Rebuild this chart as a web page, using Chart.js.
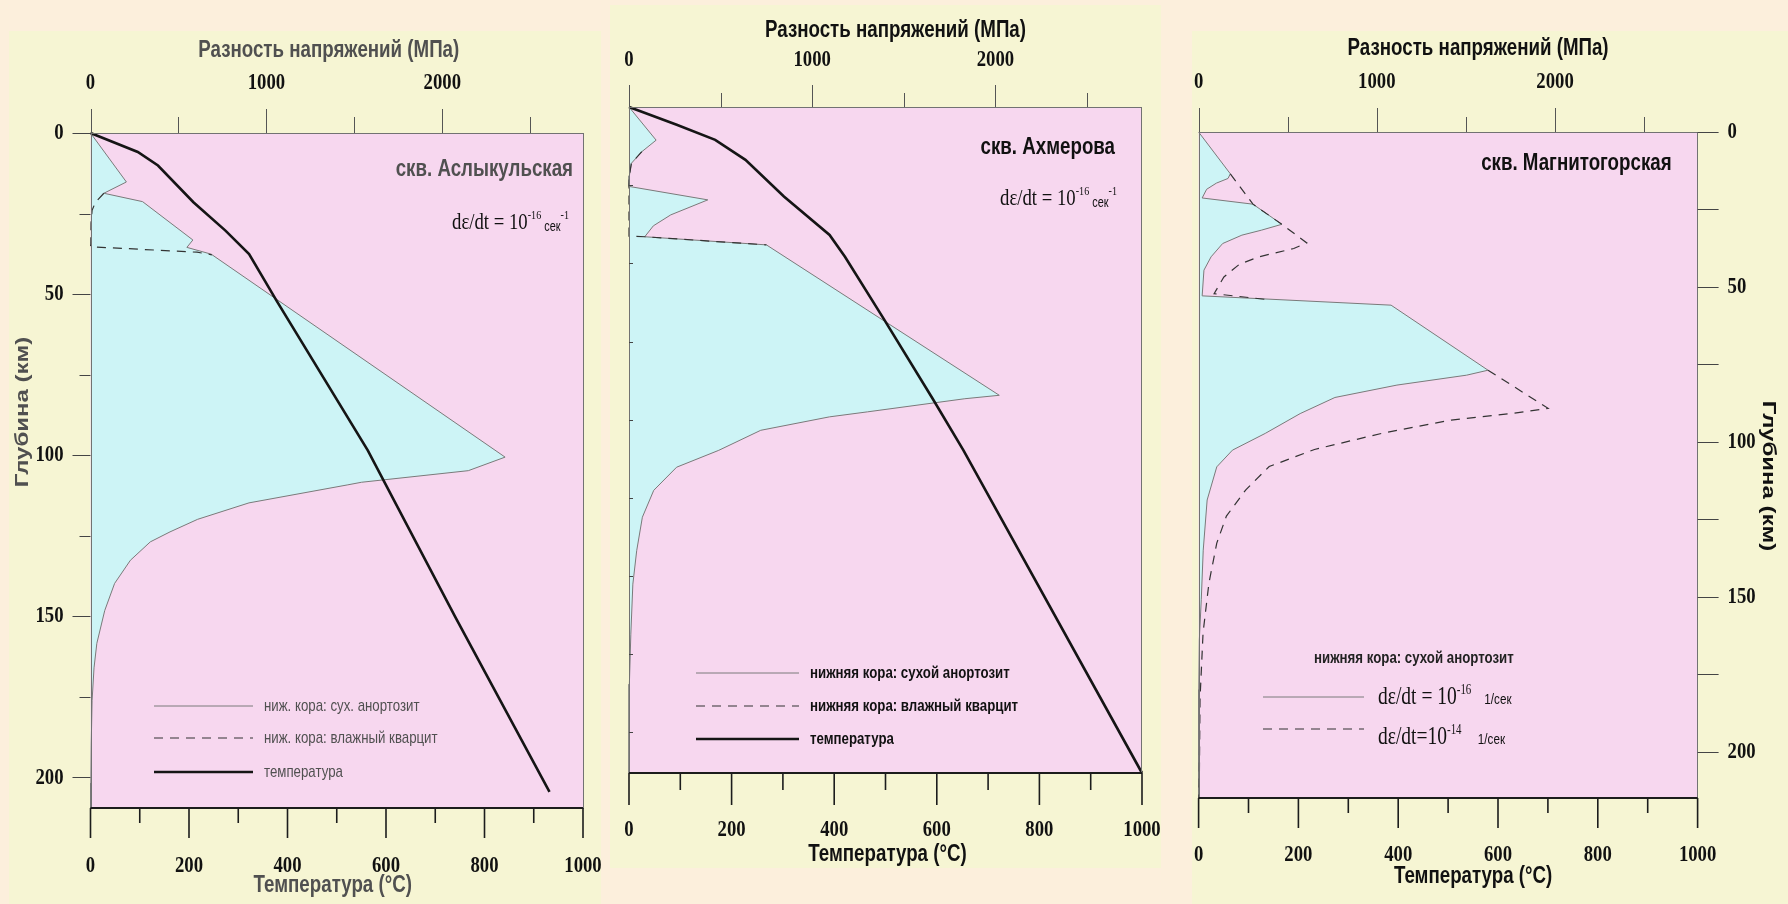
<!DOCTYPE html>
<html>
<head>
<meta charset="utf-8">
<script src="https://cdn.jsdelivr.net/npm/chart.js@4.4.1/dist/chart.umd.min.js"></script>
<style>
  body { margin: 0; width: 1788px; height: 904px; background: #fcefdc; overflow: hidden; position: relative; }
  canvas { position: absolute; left: 0; top: 0; }
</style>
</head>
<body>
<canvas id="asl" width="1788" height="904"></canvas>
<canvas id="akh" width="1788" height="904"></canvas>
<canvas id="mag" width="1788" height="904"></canvas>
<script>
// tick labels
const tempTicks = [0, 200, 400, 600, 800, 1000];
const stressTicks = [0, 1000, 2000];
const depthTicks = [0, 50, 100, 150, 200];

// скв. Аслыкульская (depth km / stress MPa / temperature C)
const aslDryDepth  = [0, 15.2, 18.7, 21.3, 33.2, 35.5, 37.6, 100.6, 104.8, 108.4, 109.2, 114.8, 119.9, 123.8, 126.9, 132.6, 139.8, 148.2, 158.4, 166.0, 176.2, 190, 201.8, 209.5];
const aslDryStress = [0, 204, 76, 296, 582, 548, 686, 2357, 2148, 1541, 1463, 901, 609, 452, 340, 227, 137, 81, 36, 20, 9, 4, 2, 0];
const aslWetDepth  = [18.7, 21.5, 24, 28, 34.5, 35.3, 37.0, 37.8];
const aslWetStress = [76, 28, 9, 3, 2, 0, 606, 690];
const aslTempDepth = [0, 5.9, 10.1, 21.5, 30.3, 37.6, 52.1, 98.5, 150, 204.5];
const aslTemp      = [0, 96, 137, 209, 274, 322, 378, 563, 740, 932];

// скв. Ахмерова
const akhDryDepth  = [0, 10.6, 14.3, 18, 22, 25.4, 29.7, 34.5, 38, 41.5, 44.1, 92.2, 93.3, 97.5, 99.1, 103.4, 109.8, 115.2, 122.6, 131.2, 141.9, 152.6, 168.6, 184.6, 213];
const akhDryStress = [0, 148, 70, 13, 2, 0, 430, 228, 133, 86, 750, 2021, 1833, 1302, 1094, 719, 490, 260, 135, 73, 42, 21, 10, 2, 0];
const akhWetDepth  = [14.3, 18, 22, 25.4, 41.3, 41.5, 44.1];
const akhWetStress = [70, 13, 2, 0, 0, 86, 750];
const akhTempDepth = [0, 5.7, 10.5, 16.9, 28.6, 40.9, 47.9, 67.6, 93.3, 109.8, 213];
const akhTemp      = [0, 93, 168, 227, 302, 391, 421, 496, 592, 652, 1000];

// скв. Магнитогорская (solid: 1e-16, dashed: 1e-14)
const magSlowDepth  = [0, 13.5, 15.0, 16.5, 18.5, 21.3, 23.3, 29.8, 31.7, 33.3, 36.0, 40.3, 44.6, 52.9, 55.9, 76.9, 78.5, 81.7, 85.7, 90.9, 97.3, 102.7, 108.1, 118.8, 135, 151, 164, 180, 215];
const magSlowStress = [0, 178, 165, 100, 45, 20, 305, 467, 352, 243, 135, 70, 30, 20, 1080, 1624, 1504, 1113, 765, 570, 374, 190, 102, 48, 26, 15, 4, 1, 0];
const magFastDepth  = [13.5, 23.3, 29.8, 35.8, 37.6, 40.3, 42.7, 46.8, 52.2, 54.0, 65, 76.9, 89.2, 90.8, 93.0, 97.3, 102.5, 108, 115.5, 124, 132.7, 145.6, 161.7, 183, 210, 215];
const magFastStress = [178, 305, 467, 607, 534, 338, 229, 142, 87, 370, null, 1624, 1961, 1765, 1417, 1026, 650, 396, 265, 156, 102, 58, 25, 8, 4, 2];

const stationNames = ['скв. Аслыкульская', 'скв. Ахмерова', 'скв. Магнитогорская'];
const aslLegend = ['ниж. кора: сух. анортозит', 'ниж. кора: влажный кварцит', 'температура'];
const akhLegend = ['нижняя кора: сухой анортозит', 'нижняя кора: влажный кварцит', 'температура'];
const magLegendHead = 'нижняя кора: сухой анортозит';
const magRates = ['-16', '-14'];

const pink = '#f7d7ef', cyan = '#cdf4f6', paper = '#f6f5d3';
const SX = 0.78; // the figure is squeezed sideways
const numFont = 'bold 24px "Liberation Serif", "Times New Roman", serif';
const sans = (bold, n) => (bold ? 'bold ' : '') + n + 'px "Liberation Sans", Arial, sans-serif';
const serif = (n) => n + 'px "Liberation Serif", "Times New Roman", serif';

const styles = {
  dry:  { color: '#7a7a7a', width: 1, dash: [] },
  wet:  { color: '#333333', width: 1.2, dash: [9, 7] },
  temp: { color: '#151515', width: 2.6, dash: [] }
};

function pts(ys, xs) {
  return ys.map((y, i) => ({ x: xs[i], y: y }));
}

function seg(ctx, x1, y1, x2, y2) {
  ctx.beginPath();
  ctx.moveTo(x1, y1);
  ctx.lineTo(x2, y2);
  ctx.stroke();
}

function say(ctx, s, x, y, font, color, align, rot) {
  ctx.save();
  ctx.translate(x, y);
  if (rot) { ctx.rotate(rot); ctx.scale(1, SX); } else { ctx.scale(SX, 1); }
  ctx.font = font;
  ctx.fillStyle = color;
  ctx.textAlign = align || 'left';
  ctx.textBaseline = 'middle';
  ctx.fillText(s, 0, 0);
  ctx.restore();
}

// text with superscripts, y is the baseline
function sayParts(ctx, parts, x, y, align, color) {
  ctx.save();
  ctx.fillStyle = color;
  ctx.textBaseline = 'alphabetic';
  ctx.textAlign = 'left';
  let w = 0;
  parts.forEach(p => { ctx.font = p.font; p.w = ctx.measureText(p.t).width * SX; w += p.w; });
  let cx = align === 'right' ? x - w : x;
  parts.forEach(p => {
    ctx.save();
    ctx.translate(cx, y + (p.dy || 0));
    ctx.scale(SX, 1);
    ctx.font = p.font;
    ctx.fillText(p.t, 0, 0);
    ctx.restore();
    cx += p.w;
  });
  ctx.restore();
}

function legendLine(ctx, st, x1, x2, y) {
  ctx.save();
  ctx.strokeStyle = st.color;
  ctx.lineWidth = st.width;
  ctx.setLineDash(st.dash);
  seg(ctx, x1, y, x2, y);
  ctx.restore();
}

const frame = {
  id: 'frame',
  beforeDraw(chart, args, o) {
    const { ctx, chartArea: a } = chart;
    ctx.save();
    ctx.fillStyle = paper;
    ctx.fillRect(o.box[0], o.box[1], o.box[2] - o.box[0], o.box[3] - o.box[1]);
    ctx.fillStyle = pink;
    ctx.fillRect(a.left, a.top, a.right - a.left, a.bottom - a.top);
    ctx.restore();
  },
  afterDatasetsDraw(chart, args, o) {
    const { ctx, chartArea: a, scales } = chart;
    const t = scales.x, s = scales.x2, d = scales.y;
    ctx.save();
    ctx.lineWidth = 1;
    ctx.strokeStyle = '#727272';
    ctx.strokeRect(Math.round(a.left) + 0.5, Math.round(a.top) + 0.5, Math.round(a.right - a.left) - 1, Math.round(a.bottom - a.top));

    // stress axis on top
    ctx.strokeStyle = '#555';
    for (let v = 0; v < s.max; v += 500) {
      const x = Math.round(s.getPixelForValue(v)) + 0.5;
      seg(ctx, x, a.top, x, a.top - (v % 1000 ? o.top.minor : o.top.major));
    }
    stressTicks.forEach(v => say(ctx, String(v), s.getPixelForValue(v), a.top + o.top.label, numFont, '#111', 'center'));
    say(ctx, 'Разность напряжений (МПа)', (a.left + a.right) / 2 + o.top.dx, a.top + o.top.title, sans(true, 24), o.ink, 'center');

    // temperature axis at the bottom
    ctx.strokeStyle = '#1c1c1c';
    ctx.lineWidth = 2;
    seg(ctx, a.left, a.bottom, a.right, a.bottom);
    ctx.lineWidth = 1.6;
    for (let v = 0; v <= t.max; v += 100) {
      const x = t.getPixelForValue(v);
      seg(ctx, x, a.bottom, x, a.bottom + (v % 200 ? o.bottom.minor : o.bottom.major));
    }
    tempTicks.forEach(v => say(ctx, String(v), t.getPixelForValue(v), a.bottom + o.bottom.label, numFont, '#111', 'center'));
    say(ctx, 'Температура (°C)', (a.left + a.right) / 2 + o.bottom.dx, a.bottom + o.bottom.title, sans(true, 24), o.ink, 'center');

    // depth axis
    ctx.lineWidth = 1;
    ctx.strokeStyle = '#444';
    const dp = o.depth;
    for (let v = 0; v <= d.max; v += 25) {
      const y = Math.round(d.getPixelForValue(v)) + 0.5;
      if (dp.side === 'left') seg(ctx, a.left, y, a.left - (v % 50 ? dp.minor : dp.major), y);
      else if (dp.side === 'right') seg(ctx, a.right, y, a.right + dp.major, y);
      else if (v > 0) seg(ctx, a.left, y, a.left + dp.major, y);
    }
    if (dp.side === 'left') {
      depthTicks.forEach(v => say(ctx, String(v), a.left + dp.label, d.getPixelForValue(v), numFont, '#111', 'right'));
      say(ctx, 'Глубина (км)', dp.titleX, dp.titleY, sans(true, 24), o.ink, 'center', -Math.PI / 2);
    } else if (dp.side === 'right') {
      depthTicks.forEach(v => say(ctx, String(v), a.right + dp.label, d.getPixelForValue(v), numFont, '#111', 'left'));
      say(ctx, 'Глубина (км)', dp.titleX, dp.titleY, sans(true, 24), o.ink, 'center', Math.PI / 2);
    }

    // station name and strain rate
    say(ctx, o.name, a.right + o.nameAt[0], a.top + o.nameAt[1], sans(true, 24), o.ink, 'right');
    if (o.rateAt) {
      sayParts(ctx, [
        { t: 'dε/dt = 10', font: serif(24) },
        { t: '-16', font: serif(13), dy: -10 },
        { t: ' сек', font: sans(false, 14), dy: 2 },
        { t: '-1', font: serif(13), dy: -10 }
      ], a.right + o.rateAt[0], a.top + o.rateAt[1], 'right', '#111');
    }

    // legend
    const lg = o.legend;
    if (lg.labels) {
      lg.styles.forEach((st, i) => {
        legendLine(ctx, st, lg.x1, lg.x2, lg.ys[i]);
        say(ctx, lg.labels[i], lg.tx, lg.ys[i], lg.font, o.ink, 'left');
      });
    } else {
      say(ctx, lg.head, lg.hx, lg.hy, sans(true, 17), '#222', 'left');
      lg.styles.forEach((st, i) => {
        legendLine(ctx, st, lg.x1, lg.x2, lg.ys[i]);
        sayParts(ctx, [
          { t: i ? 'dε/dt=10' : 'dε/dt = 10', font: serif(25) },
          { t: magRates[i], font: serif(14), dy: -10 },
          { t: i ? '     1/сек' : '    1/сек', font: sans(false, 15) }
        ], lg.tx, lg.tys[i], 'left', '#111');
      });
    }
    ctx.restore();
  }
};

function panel(id, spec, sets) {
  const a = spec.area;
  return new Chart(document.getElementById(id), {
    type: 'line',
    data: { datasets: sets },
    options: {
      indexAxis: 'y',
      responsive: false,
      animation: false,
      events: [],
      devicePixelRatio: 1,
      layout: { padding: { left: a[0], top: a[1], right: 1788 - a[2], bottom: 904 - a[3] } },
      elements: { point: { radius: 0 }, line: { tension: 0 } },
      scales: {
        x: { type: 'linear', axis: 'x', position: 'bottom', min: 0, max: 1000, display: false },
        x2: { type: 'linear', axis: 'x', position: 'top', min: 0, max: 2800, display: false },
        y: { type: 'linear', axis: 'y', min: 0, max: spec.depthMax, reverse: true, display: false }
      },
      plugins: { legend: { display: false }, tooltip: { enabled: false }, frame: spec }
    },
    plugins: [frame]
  });
}

function dryLine(label, depth, stress) {
  return { label, data: pts(depth, stress), xAxisID: 'x2', borderColor: styles.dry.color, borderWidth: styles.dry.width,
           fill: 'origin', backgroundColor: cyan, clip: false };
}
function wetLine(label, depth, stress) {
  return { label, data: pts(depth, stress), xAxisID: 'x2', borderColor: styles.wet.color, borderWidth: styles.wet.width,
           borderDash: styles.wet.dash, fill: false, clip: false };
}
function tempLine(label, depth, temp) {
  return { label, data: pts(depth, temp), xAxisID: 'x', borderColor: styles.temp.color, borderWidth: styles.temp.width,
           fill: false, clip: false };
}

panel('asl', {
  area: [90.5, 133, 583, 808], box: [9, 31, 601, 904], depthMax: 209.5, ink: '#505050',
  top: { major: 24, minor: 16, label: -50, title: -83, dx: -8 },
  bottom: { major: 30, minor: 15, label: 58, title: 77, dx: -4 },
  depth: { side: 'left', major: 18, minor: 11, label: -27, titleX: 23, titleY: 412 },
  name: stationNames[0], nameAt: [-10, 36], rateAt: [-14, 96],
  legend: { labels: aslLegend, styles: [styles.dry, styles.wet, styles.temp], x1: 154, x2: 253, tx: 264, ys: [706, 738, 772], font: sans(false, 17) }
}, [
  tempLine(aslLegend[2], aslTempDepth, aslTemp),
  wetLine(aslLegend[1], aslWetDepth, aslWetStress),
  dryLine(aslLegend[0], aslDryDepth, aslDryStress)
]);

panel('akh', {
  area: [629, 107, 1142, 773], box: [610, 5, 1161, 868], depthMax: 213, ink: '#111',
  top: { major: 22, minor: 14, label: -47, title: -77, dx: 10 },
  bottom: { major: 32, minor: 17, label: 57, title: 81, dx: 2 },
  depth: { side: 'inner', major: 4 },
  name: stationNames[1], nameAt: [-27, 40], rateAt: [-25, 98],
  legend: { labels: akhLegend, styles: [styles.dry, styles.wet, styles.temp], x1: 696, x2: 799, tx: 810, ys: [673, 706, 739], font: sans(true, 17) }
}, [
  tempLine(akhLegend[2], akhTempDepth, akhTemp),
  wetLine(akhLegend[1], akhWetDepth, akhWetStress),
  dryLine(akhLegend[0], akhDryDepth, akhDryStress)
]);

panel('mag', {
  area: [1198.6, 132, 1697.6, 798], box: [1192, 31, 1788, 904], depthMax: 215, ink: '#111',
  top: { major: 24, minor: 15, label: -50, title: -84, dx: 30 },
  bottom: { major: 30, minor: 15, label: 57, title: 78, dx: 25 },
  depth: { side: 'right', major: 21, label: 30, titleX: 1768, titleY: 476 },
  name: stationNames[2], nameAt: [-26, 31],
  legend: { head: magLegendHead, hx: 1314, hy: 658, styles: [styles.dry, styles.wet], x1: 1263, x2: 1364, ys: [697, 729], tx: 1378, tys: [704, 744] }
}, [
  wetLine('dε/dt=10-14 1/сек', magFastDepth, magFastStress),
  dryLine('dε/dt = 10-16 1/сек', magSlowDepth, magSlowStress)
]);
</script>
</body>
</html>
